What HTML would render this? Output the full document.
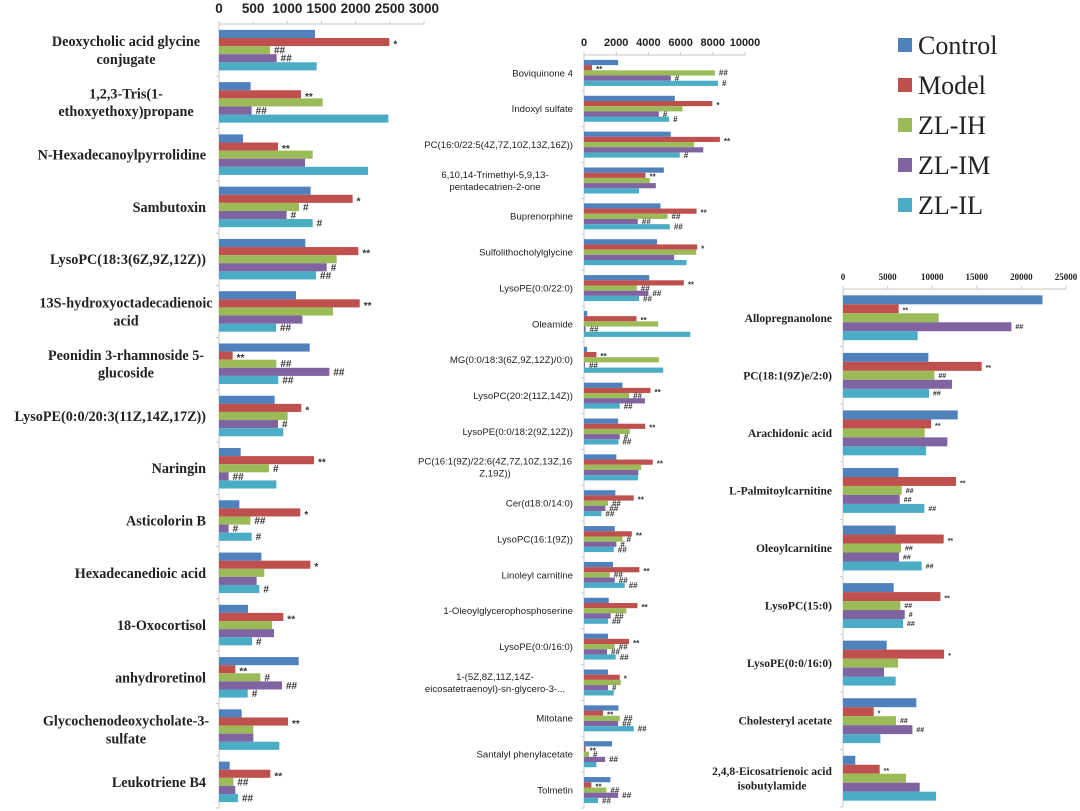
<!DOCTYPE html>
<html><head><meta charset="utf-8">
<style>
html,body{margin:0;padding:0;background:#fff;}
svg{display:block;}
</style></head>
<body>
<svg id="chart" width="1080" height="811" viewBox="0 0 1080 811" xmlns="http://www.w3.org/2000/svg"></svg>
<script>
// ---------- Panel 1 data ----------
const p1Categories = ["Deoxycholic acid glycine|conjugate","1,2,3-Tris(1-|ethoxyethoxy)propane","N-Hexadecanoylpyrrolidine","Sambutoxin","LysoPC(18:3(6Z,9Z,12Z))","13S-hydroxyoctadecadienoic|acid","Peonidin 3-rhamnoside 5-|glucoside","LysoPE(0:0/20:3(11Z,14Z,17Z))","Naringin","Asticolorin B","Hexadecanedioic acid","18-Oxocortisol","anhydroretinol","Glycochenodeoxycholate-3-|sulfate","Leukotriene B4"];
const p1Control = [1405,463,351,1341,1263,1127,1327,815,317,298,620,424,1166,332,156];
const p1Model   = [2493,1200,863,1956,2039,2059,200,1205,1390,1190,1337,941,239,1010,751];
const p1IH      = [746,1517,1371,1171,1722,1668,839,1005,732,459,663,776,605,502,210];
const p1IM      = [844,478,1259,990,1576,1220,1615,863,141,141,551,805,922,502,239];
const p1IL      = [1429,2478,2180,1371,1420,834,868,941,839,478,590,483,420,883,278];
const p1ModelSig = ["*","**","**","*","**","**","**","*","**","*","*","**","**","**","**"];
const p1IHSig    = ["##","","","#","","","##","","#","##","","","#","","##"];
const p1IMSig    = ["##","##","","#","#","","##","#","##","#","","","##","",""];
const p1ILSig    = ["","","","#","##","##","##","","","#","#","#","#","","##"];
const p1Ticks = [0,500,1000,1500,2000,2500,3000];

// ---------- Panel 2 data ----------
const p2Categories = ["Boviquinone 4","Indoxyl sulfate","PC(16:0/22:5(4Z,7Z,10Z,13Z,16Z))","6,10,14-Trimethyl-5,9,13-|pentadecatrien-2-one","Buprenorphine","Sulfolithocholylglycine","LysoPE(0:0/22:0)","Oleamide","MG(0:0/18:3(6Z,9Z,12Z)/0:0)","LysoPC(20:2(11Z,14Z))","LysoPE(0:0/18:2(9Z,12Z))","PC(16:1(9Z)/22:6(4Z,7Z,10Z,13Z,16|Z,19Z))","Cer(d18:0/14:0)","LysoPC(16:1(9Z))","Linoleyl carnitine","1-Oleoylglycerophosphoserine","LysoPE(0:0/16:0)","1-(5Z,8Z,11Z,14Z-|eicosatetraenoyl)-sn-glycero-3-...","Mitotane","Santalyl phenylacetate","Tolmetin"];
const p2Control = [2120,5640,5390,4960,4750,4540,4050,200,190,2390,2120,2010,1950,1910,1800,1540,1490,1490,2140,1740,1640];
const p2Model   = [500,7970,8440,3820,6990,7030,6200,3260,770,4130,3800,4270,3090,2970,3440,3320,2800,2220,1180,100,460];
const p2IH      = [8130,6120,6830,4090,5190,6970,3280,4610,4650,2800,2840,3550,1490,2390,1600,2630,1910,2280,2220,310,1390];
const p2IM      = [5390,4650,7410,4460,3340,5600,4000,100,60,3780,2220,3380,1330,2010,1910,1660,1430,1490,2120,1310,2120];
const p2IL      = [8320,5290,5950,3420,5330,6370,3420,6600,4920,2220,2140,3360,1080,1850,2530,1490,1970,1850,3090,770,870];
const p2ModelSig = ["**","*","**","**","**","*","**","**","**","**","**","**","**","**","**","**","**","*","**","**","**"];
const p2IHSig    = ["##","","","","##","","##","","","##","","","##","#","##","","##","","##","#","##"];
const p2IMSig    = ["#","#","","","##","","##","##","##","","#","","##","#","##","##","##","#","##","##","##"];
const p2ILSig    = ["#","#","#","","##","","##","","","##","##","","##","##","##","##","##","","##","","##"];
const p2Ticks = [0,2000,4000,6000,8000,10000];

// ---------- Panel 3 data ----------
const p3Categories = ["Allopregnanolone","PC(18:1(9Z)e/2:0)","Arachidonic acid","L-Palmitoylcarnitine","Oleoylcarnitine","LysoPC(15:0)","LysoPE(0:0/16:0)","Cholesteryl acetate","2,4,8-Eicosatrienoic acid|isobutylamide"];
const p3Control = [22360,9570,12860,6210,5910,5680,4900,8220,1380];
const p3Model   = [6240,15550,9870,12670,11290,10920,11330,3440,4110];
const p3IH      = [10730,10240,9160,6580,6500,6430,6170,5940,7070];
const p3IM      = [18880,12220,11700,6360,6280,6920,4600,7780,8600];
const p3IL      = [8370,9640,9310,9120,8820,6730,5910,4190,10430];
const p3ModelSig = ["**","**","**","**","**","**","*","*","**"];
const p3IHSig    = ["","##","","##","##","##","","##",""];
const p3IMSig    = ["##","","","##","##","#","","##",""];
const p3ILSig    = ["","##","","##","##","##","","",""];
const p3Ticks = [0,5000,10000,15000,20000,25000];

const seriesNames = ["Control","Model","ZL-IH","ZL-IM","ZL-IL"];
const seriesColors = ["#4F81BD","#C0504D","#9BBB59","#8064A2","#4BACC6"];

const svg = document.getElementById('chart');
const NS = "http://www.w3.org/2000/svg";
function mk(tag, parent){ const e=document.createElementNS(NS,tag); parent.appendChild(e); return e; }

function drawPanel(id, cfg, cats, series, sigs, ticks){
  const g = mk('g', svg);
  
  
  const maxV = ticks[ticks.length-1];
  const xs = v => cfg.x0 + (v/maxV)*(cfg.x1-cfg.x0);
  const band = (cfg.bottom - cfg.axisY)/cats.length;
  const barH = band*cfg.barFrac;
  const groupOff = (band - 5*barH)/2;
  const ax = mk('line', g);
  ax.setAttribute('x1', cfg.x0); ax.setAttribute('x2', cfg.x0);
  ax.setAttribute('y1', cfg.axisY); ax.setAttribute('y2', cfg.bottom);
  ax.setAttribute('stroke', '#c8c8c8');
  
  
  const hx = mk('line', g);
  hx.setAttribute('x1', cfg.x0); hx.setAttribute('x2', cfg.x1);
  hx.setAttribute('y1', cfg.axisY); hx.setAttribute('y2', cfg.axisY);
  hx.setAttribute('stroke', '#c8c8c8');
  
  
  ticks.forEach(t => {
    const x = xs(t);
    const tk = mk('line', g);
    tk.setAttribute('x1', x); tk.setAttribute('x2', x);
    tk.setAttribute('y1', cfg.axisY-3); tk.setAttribute('y2', cfg.axisY);
    tk.setAttribute('stroke', '#c8c8c8');
    
    
    const tl = mk('text', g);
    tl.setAttribute('x', x); tl.setAttribute('y', cfg.tickY);
    tl.setAttribute('text-anchor', 'middle');
    tl.setAttribute('font-family', cfg.tickFont);
    tl.setAttribute('font-size', cfg.tickSize);
    tl.setAttribute('font-weight', cfg.tickWeight);
    tl.setAttribute('fill', '#222');
    tl.textContent = t;
    
    
  });
  cats.forEach((c, i) => {
    const top = cfg.axisY + i*band;
    const tk = mk('line', g);
    tk.setAttribute('x1', cfg.x0-3); tk.setAttribute('x2', cfg.x0);
    tk.setAttribute('y1', top+band); tk.setAttribute('y2', top+band);
    tk.setAttribute('stroke', '#c8c8c8');
    
    
    const lines = c.split('|');
    const cy = top + band/2;
    const lh = cfg.labelSize*1.25;
    lines.forEach((ln, k) => {
      const t = mk('text', g);
      t.setAttribute('x', lines.length>1 ? cfg.labelRight - cfg.wrapCenter : cfg.labelRight);
      t.setAttribute('y', cy + (k - (lines.length-1)/2)*lh + cfg.labelSize*0.35);
      t.setAttribute('text-anchor', lines.length>1 ? 'middle' : 'end');
      t.setAttribute('font-family', cfg.labelFont);
      t.setAttribute('font-size', cfg.labelSize);
      t.setAttribute('font-weight', cfg.labelWeight);
      t.setAttribute('fill', '#222');
      t.textContent = ln;
      
      
    });
    series.forEach((arr, s) => {
      const y = top + groupOff + s*barH;
      const r = mk('rect', g);
      r.setAttribute('x', cfg.x0);
      r.setAttribute('y', y);
      r.setAttribute('width', Math.max(0, xs(arr[i]) - cfg.x0));
      r.setAttribute('height', barH);
      r.setAttribute('fill', seriesColors[s]);
      
      
      const sg = s>0 ? sigs[s-1][i] : "";
      if (sg) {
        const st = mk('text', g);
        st.setAttribute('x', xs(arr[i]) + 4);
        st.setAttribute('y', y + barH*0.5 + (sg.indexOf('*')>=0 ? cfg.sigSize*0.55 : cfg.sigSize*0.35));
        st.setAttribute('font-family', 'Liberation Sans, sans-serif');
        st.setAttribute('font-size', cfg.sigSize);
        st.setAttribute('font-weight', 'bold');
        st.setAttribute('fill', '#333');
        st.textContent = sg;
        
        
      }
    });
  });
}

drawPanel('panel-bile-metabolites', {x0:219, x1:424, axisY:24, bottom:808, barFrac:0.155,
  tickY:13, tickFont:'Liberation Sans, sans-serif', tickSize:13.5, tickWeight:'bold',
  labelRight:206, wrapCenter:80, labelFont:'Liberation Serif, serif', labelSize:14.2, labelWeight:'bold', sigSize:10},
  p1Categories, [p1Control,p1Model,p1IH,p1IM,p1IL], [p1ModelSig,p1IHSig,p1IMSig,p1ILSig], p1Ticks);

drawPanel('panel-lipid-metabolites', {x0:584, x1:745, axisY:55, bottom:808, barFrac:0.145,
  tickY:46, tickFont:'Liberation Sans, sans-serif', tickSize:11, tickWeight:'bold',
  labelRight:573, wrapCenter:78, labelFont:'Liberation Sans, sans-serif', labelSize:9.6, labelWeight:'normal', sigSize:8},
  p2Categories, [p2Control,p2Model,p2IH,p2IM,p2IL], [p2ModelSig,p2IHSig,p2IMSig,p2ILSig], p2Ticks);

drawPanel('panel-steroid-metabolites', {x0:843, x1:1066, axisY:289, bottom:807, barFrac:0.156,
  tickY:280, tickFont:'Liberation Serif, serif', tickSize:9, tickWeight:'bold',
  labelRight:832, wrapCenter:60, labelFont:'Liberation Serif, serif', labelSize:11.5, labelWeight:'bold', sigSize:7},
  p3Categories, [p3Control,p3Model,p3IH,p3IM,p3IL], [p3ModelSig,p3IHSig,p3IMSig,p3ILSig], p3Ticks);

const lg = mk('g', svg);


seriesNames.forEach((n, s) => {
  const cy = 45 + s*40;
  const r = mk('rect', lg);
  r.setAttribute('x', 898); r.setAttribute('y', cy-7);
  r.setAttribute('width', 14); r.setAttribute('height', 14);
  r.setAttribute('fill', seriesColors[s]);
  
  
  const t = mk('text', lg);
  t.setAttribute('x', 918); t.setAttribute('y', cy+9);
  t.setAttribute('font-family', 'Liberation Serif, serif');
  t.setAttribute('font-size', 26);
  t.setAttribute('fill', '#222');
  t.textContent = n;
  
  
});
</script>
</body></html>
